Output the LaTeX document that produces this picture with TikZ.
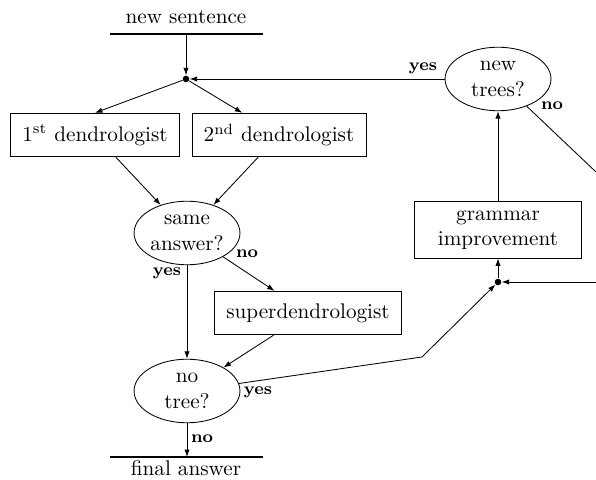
\documentclass[tikz,border=0pt]{standalone}
\usetikzlibrary{shapes.geometric,arrows.meta}
\tikzset{
    box/.style={draw, rectangle, minimum height=20.5pt, inner xsep=5.5pt},
    question/.style={draw, ellipse, minimum width=50pt, minimum height=30pt, inner sep=0pt, align=center},
    answer/.style={font=\footnotesize\bfseries},
    junction/.style={circle, fill, inner sep=1.1pt},
    flow/.style={-{Latex[length=3.5pt,width=2.5pt]}},
    bar/.style={line width=1pt}
}
\begin{document}
\begin{tikzpicture}[x=0.472pt, y=-0.472pt]
    \useasboundingbox (0,0) rectangle (596,480);
    % start and end
    \node (sentence) at (186,17) {new sentence};
    \draw[bar] (110,34)--(263,34);
    \coordinate (sentbar) at (186,34);
    \node[inner sep=1pt] (final) at (186,468) {final answer};
    \draw[bar] (110,457)--(263,457);
    \coordinate (finalbar) at (187,457);
    % nodes
    \node[junction] (split) at (186,79) {};
    \node[box] (dendroA) at (95,135) {1\textsuperscript{st} dendrologist};
    \node[box] (dendroB) at (279,135) {2\textsuperscript{nd} dendrologist};
    \node[question] (same) at (187,233) {same\\answer?};
    \node[box] (super) at (308,313) {superdendrologist};
    \node[question] (notree) at (187,391) {no\\tree?};
    \coordinate (bend) at (422,357);
    \node[junction] (merge) at (498,282) {};
    \node[box, minimum width=79pt, minimum height=26.5pt, align=center] (grammar) at (498,230) {grammar\\improvement};
    \node[question] (newtrees) at (498,79) {new\\trees?};
    \coordinate (exit) at (596,172);
    \coordinate (feedback) at (596,282);
    % connectors
    \draw[flow] (sentbar)--(split);
    \draw[flow] (split)--(dendroA.north);
    \draw[flow] (split)--(dendroB);
    \draw[flow] (dendroA)--(same);
    \draw[flow] (dendroB)--(same);
    \draw[flow] (same)--(notree);
    \draw[flow] (same)--(super);
    \draw[flow] (super)--(notree);
    \draw[flow] (notree)--(finalbar);
    \draw[flow] (notree)--(bend)--(merge);
    \draw[flow] (feedback)--(merge);
    \draw[flow] (merge)--(grammar);
    \draw[flow] (grammar)--(newtrees);
    \draw[flow] (newtrees)--(split);
    \draw (newtrees)--(exit);
    % labels
    \node[answer] at (423,68) {yes};
    \node[answer] at (552,106) {no};
    \node[answer] at (167,273) {yes};
    \node[answer] at (247,254) {no};
    \node[answer] at (258,392) {yes};
    \node[answer] at (202,439) {no};
\end{tikzpicture}
\end{document}
